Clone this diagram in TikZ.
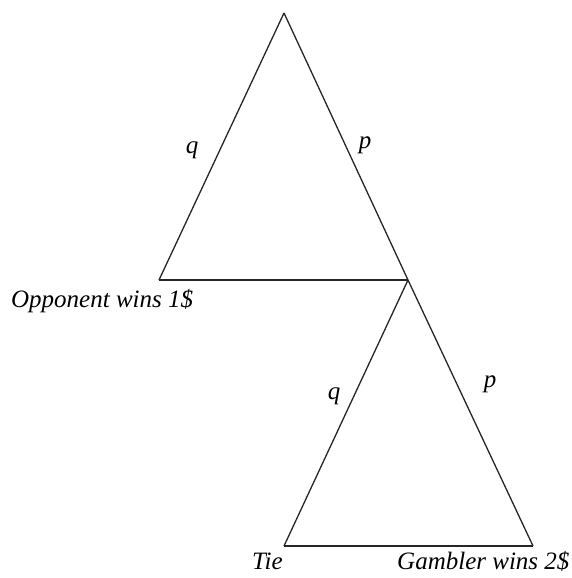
\documentclass[tikz,border=0pt]{standalone}
\usepackage{fontspec}
\setmainfont{Liberation Serif}
\begin{document}
\begin{tikzpicture}[x=1pt,y=-1pt,
  edge/.style={line width=1.3pt, draw=black!85},
  lbl/.style={font=\fontsize{25}{29}\selectfont\itshape, inner sep=0pt}]
\useasboundingbox (0,0) rectangle (571,578);
% vertices
\coordinate (A) at (284,13);
\coordinate (B) at (159,280);
\coordinate (C) at (408,280);
\coordinate (D) at (284,546);
\coordinate (E) at (533,546);
% first triangle
\draw[edge] (A) -- (B);
\draw[edge] (A) -- (C);
\draw[edge] (B) -- (C);
% second triangle
\draw[edge] (C) -- (D);
\draw[edge] (C) -- (E);
\draw[edge] (D) -- (E);
% labels
\node[lbl, anchor=base] (q1) at (192,153) {q};
\node[lbl, anchor=base] (p1) at (365,148) {p};
\node[lbl, anchor=base] (q2) at (334,399) {q};
\node[lbl, anchor=base] (p2) at (490,387) {p};
\node[lbl, anchor=base west] (opp) at (11,307) {Opponent wins 1\$};
\node[lbl, anchor=base west] (tie) at (252,569) {Tie};
\node[lbl, anchor=base west] (gam) at (397,569) {Gambler wins 2\$};
\end{tikzpicture}
\end{document}
